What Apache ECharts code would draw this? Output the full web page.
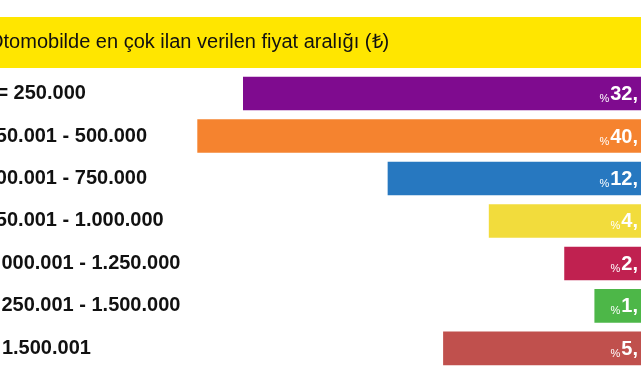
<!DOCTYPE html>
<html>
<head>
<meta charset="utf-8">
<script src="https://cdn.jsdelivr.net/npm/echarts@6/dist/echarts.min.js"></script>
<style>
html,body{margin:0;padding:0;background:#fff;}
#chart{width:641px;height:380px;}
</style>
</head>
<body>
<div id="chart"></div>
<script>
// Title of the graphic
const titleText = 'Otomobilde en çok ilan verilen fiyat aralığı (₺)';
// Price ranges (TL)
const categories = ['<= 250.000', '250.001 - 500.000', '500.001 - 750.000', '750.001 - 1.000.000', '1.000.001 - 1.250.000', '1.250.001 - 1.500.000', '> 1.500.001'];
// Share labels as visible in the (cropped) picture
const shareLabels = ['32,', '40,', '12,', '4,', '2,', '1,', '5,'];
// Bar lengths as drawn in the source graphic (relative scale, longest = 100)
const barLength = [89.7, 100, 57.1, 34.3, 17.3, 10.5, 44.6];
// Bar colours
const barColors = ['#7F0B8F', '#F5832F', '#2778C0', '#F2DC3C', '#C02150', '#4DB748', '#C0504D'];

const FONT = '"Liberation Sans", Arial, Helvetica, sans-serif';
const chart = echarts.init(document.getElementById('chart'), null, {renderer: 'canvas'});
chart.setOption({
  animation: false,
  graphic: [
    {type: 'rect', shape: {x: 0, y: 17, width: 641, height: 51}, style: {fill: '#FFE600'}, z: 0},
    {type: 'text', x: -12, y: 42, style: {text: titleText, font: 'normal 20px ' + FONT, fill: '#111', verticalAlign: 'middle', align: 'left'}, z: 1}
  ],
  grid: {left: 197.3, right: 0, top: 72.3, bottom: 10.4, containLabel: false, outerBoundsMode: 'none'},
  xAxis: {
    type: 'value', inverse: true, min: 0, max: 100,
    show: false
  },
  yAxis: {
    type: 'category', inverse: true, data: categories, position: 'left',
    axisLine: {show: false}, axisTick: {show: false}, splitLine: {show: false},
    axisLabel: {
      align: 'left', margin: 212.6,
      fontFamily: FONT, fontSize: 20, fontWeight: 'bold', color: '#111'
    }
  },
  series: [{
    type: 'bar',
    data: barLength.map((v, i) => ({value: v, itemStyle: {color: barColors[i]}})),
    barCategoryGap: '21%',
    label: {
      show: true, position: 'insideRight', distance: 3,
      formatter: p => '{p|%}{v|' + shareLabels[p.dataIndex] + '}',
      rich: {
        p: {fontFamily: FONT, fontSize: 11, color: '#fff', verticalAlign: 'bottom', lineHeight: 22, padding: [0, 1, 0, 0]},
        v: {fontFamily: FONT, fontSize: 20, fontWeight: 'bold', color: '#fff', verticalAlign: 'bottom', lineHeight: 22}
      }
    }
  }]
});
</script>
</body>
</html>
